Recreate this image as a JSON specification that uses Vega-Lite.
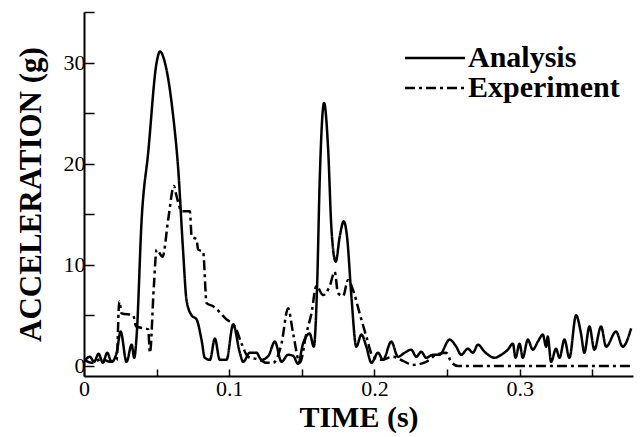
{
  "$schema": "https://vega.github.io/schema/vega-lite/v6.json",
  "autosize": {"type": "none"},
  "padding": {"left": 84, "top": 12, "right": 10, "bottom": 61},
  "width": 549,
  "height": 364,
  "background": "white",
  "config": {
    "view": {"stroke": null},
    "axis": {
      "domainColor": "black",
      "domainWidth": 2,
      "tickColor": "black",
      "tickWidth": 1.5,
      "grid": false,
      "labelFont": "Liberation Serif",
      "labelFontSize": 22,
      "labelColor": "black",
      "labelFlush": false,
      "labelOverlap": false,
      "titleFont": "Liberation Serif",
      "titleFontSize": 30,
      "titleFontWeight": "bold",
      "titleColor": "black"
    },
    "legend": {
      "orient": "none",
      "legendX": 321,
      "legendY": 31,
      "title": null,
      "padding": 0,
      "rowPadding": 0,
      "symbolType": "M-1.5,0H4.5",
      "symbolSize": 400,
      "symbolStrokeWidth": 2.5,
      "symbolStrokeColor": "black",
      "symbolFillColor": "transparent",
      "labelFont": "Liberation Serif",
      "labelFontWeight": "bold",
      "labelFontSize": 30,
      "labelColor": "black",
      "labelOffset": 33
    }
  },
  "data": {
    "values": [
      {"t": 0, "a": 0.4, "s": "Analysis"},
      {"t": 0.004, "a": 0.9, "s": "Analysis"},
      {"t": 0.007, "a": 0.4, "s": "Analysis"},
      {"t": 0.010, "a": 1.2, "s": "Analysis"},
      {"t": 0.013, "a": 0.3, "s": "Analysis"},
      {"t": 0.016, "a": 1.3, "s": "Analysis"},
      {"t": 0.019, "a": 0.4, "s": "Analysis"},
      {"t": 0.0225, "a": 1.3, "s": "Analysis"},
      {"t": 0.0252, "a": 3.4, "s": "Analysis"},
      {"t": 0.0293, "a": 0.4, "s": "Analysis"},
      {"t": 0.0328, "a": 2.1, "s": "Analysis"},
      {"t": 0.0346, "a": 0.8, "s": "Analysis"},
      {"t": 0.0362, "a": 2.9, "s": "Analysis"},
      {"t": 0.0397, "a": 14.5, "s": "Analysis"},
      {"t": 0.0442, "a": 21.1, "s": "Analysis"},
      {"t": 0.05, "a": 30.0, "s": "Analysis"},
      {"t": 0.0523, "a": 31.1, "s": "Analysis"},
      {"t": 0.0557, "a": 30.0, "s": "Analysis"},
      {"t": 0.0614, "a": 24.7, "s": "Analysis"},
      {"t": 0.0649, "a": 19.4, "s": "Analysis"},
      {"t": 0.0683, "a": 11.2, "s": "Analysis"},
      {"t": 0.0706, "a": 6.5, "s": "Analysis"},
      {"t": 0.0741, "a": 5.0, "s": "Analysis"},
      {"t": 0.0775, "a": 4.6, "s": "Analysis"},
      {"t": 0.0809, "a": 2.6, "s": "Analysis"},
      {"t": 0.0832, "a": 0.8, "s": "Analysis"},
      {"t": 0.0867, "a": 0.6, "s": "Analysis"},
      {"t": 0.0901, "a": 2.7, "s": "Analysis"},
      {"t": 0.0935, "a": 0.6, "s": "Analysis"},
      {"t": 0.0981, "a": 0.6, "s": "Analysis"},
      {"t": 0.1027, "a": 4.1, "s": "Analysis"},
      {"t": 0.1073, "a": 1.3, "s": "Analysis"},
      {"t": 0.1096, "a": 0.4, "s": "Analysis"},
      {"t": 0.1142, "a": 1.3, "s": "Analysis"},
      {"t": 0.1187, "a": 1.3, "s": "Analysis"},
      {"t": 0.1222, "a": 0.6, "s": "Analysis"},
      {"t": 0.127, "a": 1.0, "s": "Analysis"},
      {"t": 0.1314, "a": 2.4, "s": "Analysis"},
      {"t": 0.136, "a": 0.4, "s": "Analysis"},
      {"t": 0.1405, "a": 1.1, "s": "Analysis"},
      {"t": 0.144, "a": 1.0, "s": "Analysis"},
      {"t": 0.1474, "a": 0.2, "s": "Analysis"},
      {"t": 0.1508, "a": 2.2, "s": "Analysis"},
      {"t": 0.1554, "a": 3.2, "s": "Analysis"},
      {"t": 0.1582, "a": 1.9, "s": "Analysis"},
      {"t": 0.1605, "a": 7.9, "s": "Analysis"},
      {"t": 0.1623, "a": 18.4, "s": "Analysis"},
      {"t": 0.1653, "a": 26.0, "s": "Analysis"},
      {"t": 0.168, "a": 21.7, "s": "Analysis"},
      {"t": 0.1704, "a": 13.5, "s": "Analysis"},
      {"t": 0.1733, "a": 10.3, "s": "Analysis"},
      {"t": 0.1761, "a": 12.8, "s": "Analysis"},
      {"t": 0.1788, "a": 14.3, "s": "Analysis"},
      {"t": 0.1811, "a": 12.8, "s": "Analysis"},
      {"t": 0.1841, "a": 6.9, "s": "Analysis"},
      {"t": 0.1875, "a": 1.9, "s": "Analysis"},
      {"t": 0.191, "a": 3.1, "s": "Analysis"},
      {"t": 0.1944, "a": 1.9, "s": "Analysis"},
      {"t": 0.1979, "a": 0.3, "s": "Analysis"},
      {"t": 0.2024, "a": 1.3, "s": "Analysis"},
      {"t": 0.2059, "a": 0.6, "s": "Analysis"},
      {"t": 0.2116, "a": 2.4, "s": "Analysis"},
      {"t": 0.2162, "a": 0.9, "s": "Analysis"},
      {"t": 0.2208, "a": 1.3, "s": "Analysis"},
      {"t": 0.2253, "a": 1.6, "s": "Analysis"},
      {"t": 0.2288, "a": 0.9, "s": "Analysis"},
      {"t": 0.2322, "a": 1.4, "s": "Analysis"},
      {"t": 0.2356, "a": 0.8, "s": "Analysis"},
      {"t": 0.2402, "a": 1.1, "s": "Analysis"},
      {"t": 0.2448, "a": 1.1, "s": "Analysis"},
      {"t": 0.2517, "a": 2.6, "s": "Analysis"},
      {"t": 0.2563, "a": 1.9, "s": "Analysis"},
      {"t": 0.2597, "a": 1.1, "s": "Analysis"},
      {"t": 0.2643, "a": 1.7, "s": "Analysis"},
      {"t": 0.2678, "a": 1.3, "s": "Analysis"},
      {"t": 0.2712, "a": 2.1, "s": "Analysis"},
      {"t": 0.2758, "a": 1.4, "s": "Analysis"},
      {"t": 0.2827, "a": 0.8, "s": "Analysis"},
      {"t": 0.2873, "a": 1.1, "s": "Analysis"},
      {"t": 0.2918, "a": 1.6, "s": "Analysis"},
      {"t": 0.2953, "a": 2.2, "s": "Analysis"},
      {"t": 0.2971, "a": 0.8, "s": "Analysis"},
      {"t": 0.2999, "a": 2.2, "s": "Analysis"},
      {"t": 0.3021, "a": 0.8, "s": "Analysis"},
      {"t": 0.3056, "a": 2.6, "s": "Analysis"},
      {"t": 0.309, "a": 1.6, "s": "Analysis"},
      {"t": 0.3125, "a": 2.4, "s": "Analysis"},
      {"t": 0.3159, "a": 3.1, "s": "Analysis"},
      {"t": 0.3182, "a": 1.9, "s": "Analysis"},
      {"t": 0.3193, "a": 2.9, "s": "Analysis"},
      {"t": 0.3216, "a": 0.4, "s": "Analysis"},
      {"t": 0.325, "a": 1.7, "s": "Analysis"},
      {"t": 0.3274, "a": 0.8, "s": "Analysis"},
      {"t": 0.3308, "a": 2.6, "s": "Analysis"},
      {"t": 0.3342, "a": 0.8, "s": "Analysis"},
      {"t": 0.3388, "a": 5.0, "s": "Analysis"},
      {"t": 0.3422, "a": 3.2, "s": "Analysis"},
      {"t": 0.3445, "a": 1.3, "s": "Analysis"},
      {"t": 0.348, "a": 3.9, "s": "Analysis"},
      {"t": 0.3514, "a": 1.6, "s": "Analysis"},
      {"t": 0.356, "a": 3.9, "s": "Analysis"},
      {"t": 0.3595, "a": 1.9, "s": "Analysis"},
      {"t": 0.3663, "a": 3.4, "s": "Analysis"},
      {"t": 0.3709, "a": 1.9, "s": "Analysis"},
      {"t": 0.3767, "a": 3.7, "s": "Analysis"},
      {"t": 0, "a": 0.6, "s": "Experiment"},
      {"t": 0.006, "a": 0.3, "s": "Experiment"},
      {"t": 0.012, "a": 0.7, "s": "Experiment"},
      {"t": 0.018, "a": 0.4, "s": "Experiment"},
      {"t": 0.0225, "a": 0.6, "s": "Experiment"},
      {"t": 0.0243, "a": 6.4, "s": "Experiment"},
      {"t": 0.0259, "a": 5.2, "s": "Experiment"},
      {"t": 0.0339, "a": 5.0, "s": "Experiment"},
      {"t": 0.0358, "a": 3.9, "s": "Experiment"},
      {"t": 0.0442, "a": 3.6, "s": "Experiment"},
      {"t": 0.0454, "a": 1.3, "s": "Experiment"},
      {"t": 0.0481, "a": 7.9, "s": "Experiment"},
      {"t": 0.05, "a": 11.5, "s": "Experiment"},
      {"t": 0.0541, "a": 10.8, "s": "Experiment"},
      {"t": 0.058, "a": 14.5, "s": "Experiment"},
      {"t": 0.0619, "a": 17.8, "s": "Experiment"},
      {"t": 0.0637, "a": 16.8, "s": "Experiment"},
      {"t": 0.0672, "a": 15.3, "s": "Experiment"},
      {"t": 0.0729, "a": 15.3, "s": "Experiment"},
      {"t": 0.0741, "a": 12.8, "s": "Experiment"},
      {"t": 0.0775, "a": 12.5, "s": "Experiment"},
      {"t": 0.0786, "a": 11.5, "s": "Experiment"},
      {"t": 0.082, "a": 11.3, "s": "Experiment"},
      {"t": 0.0844, "a": 6.2, "s": "Experiment"},
      {"t": 0.0889, "a": 5.9, "s": "Experiment"},
      {"t": 0.0981, "a": 4.6, "s": "Experiment"},
      {"t": 0.1039, "a": 3.9, "s": "Experiment"},
      {"t": 0.1085, "a": 2.2, "s": "Experiment"},
      {"t": 0.113, "a": 0.9, "s": "Experiment"},
      {"t": 0.121, "a": 0.6, "s": "Experiment"},
      {"t": 0.1257, "a": 0.3, "s": "Experiment"},
      {"t": 0.1302, "a": 0.3, "s": "Experiment"},
      {"t": 0.136, "a": 2.2, "s": "Experiment"},
      {"t": 0.1405, "a": 5.7, "s": "Experiment"},
      {"t": 0.144, "a": 3.2, "s": "Experiment"},
      {"t": 0.1486, "a": 0.3, "s": "Experiment"},
      {"t": 0.1531, "a": 3.2, "s": "Experiment"},
      {"t": 0.1566, "a": 5.2, "s": "Experiment"},
      {"t": 0.16, "a": 7.9, "s": "Experiment"},
      {"t": 0.1646, "a": 7.0, "s": "Experiment"},
      {"t": 0.1692, "a": 7.9, "s": "Experiment"},
      {"t": 0.1726, "a": 9.3, "s": "Experiment"},
      {"t": 0.1749, "a": 7.2, "s": "Experiment"},
      {"t": 0.1784, "a": 6.9, "s": "Experiment"},
      {"t": 0.1818, "a": 8.5, "s": "Experiment"},
      {"t": 0.1852, "a": 7.5, "s": "Experiment"},
      {"t": 0.1898, "a": 5.2, "s": "Experiment"},
      {"t": 0.1944, "a": 2.9, "s": "Experiment"},
      {"t": 0.199, "a": 0.9, "s": "Experiment"},
      {"t": 0.2047, "a": 0.6, "s": "Experiment"},
      {"t": 0.2127, "a": 0.9, "s": "Experiment"},
      {"t": 0.2196, "a": 0.5, "s": "Experiment"},
      {"t": 0.2265, "a": 0.1, "s": "Experiment"},
      {"t": 0.2356, "a": 0.4, "s": "Experiment"},
      {"t": 0.2425, "a": 1.1, "s": "Experiment"},
      {"t": 0.2494, "a": 1.3, "s": "Experiment"},
      {"t": 0.2528, "a": 0.4, "s": "Experiment"},
      {"t": 0.2574, "a": 0, "s": "Experiment"},
      {"t": 0.378, "a": 0, "s": "Experiment"}
    ]
  },
  "mark": {"type": "line", "color": "black", "strokeWidth": 2.5, "interpolate": "monotone", "clip": true},
  "encoding": {
    "x": {
      "field": "t",
      "type": "quantitative",
      "scale": {"domain": [0, 0.378], "nice": false, "zero": false},
      "axis": {
        "title": "TIME (s)",
        "values": [0, 0.05, 0.1, 0.15, 0.2, 0.25, 0.3, 0.35],
        "format": "~g",
        "labelExpr": "round(datum.value * 100) % 10 != 0 ? '' : datum.label",
        "tickSize": -7,
        "labelPadding": 9,
        "titlePadding": 3,
        "encode": {"ticks": {"update": {"y2": [{"test": "round(datum.value * 100) % 10 != 0", "value": -4}, {"value": -7}]}}}
      }
    },
    "y": {
      "field": "a",
      "type": "quantitative",
      "scale": {"domain": [-1, 35], "nice": false, "zero": false},
      "axis": {
        "title": "ACCELERATION (g)",
        "titleFontSize": 31,
        "values": [0, 5, 10, 15, 20, 25, 30, 35],
        "labelExpr": "datum.value % 10 != 0 ? '' : datum.label",
        "tickSize": -10,
        "labelPadding": 9,
        "titlePadding": 16,
        "encode": {"ticks": {"update": {"x2": [{"test": "datum.value % 10 != 0", "value": 4}, {"value": 10}]}}}
      }
    },
    "strokeDash": {
      "field": "s",
      "type": "nominal",
      "scale": {"domain": ["Analysis", "Experiment"], "range": [[1, 0], [10, 4, 3, 4]]},
      "legend": {}
    }
  }
}
